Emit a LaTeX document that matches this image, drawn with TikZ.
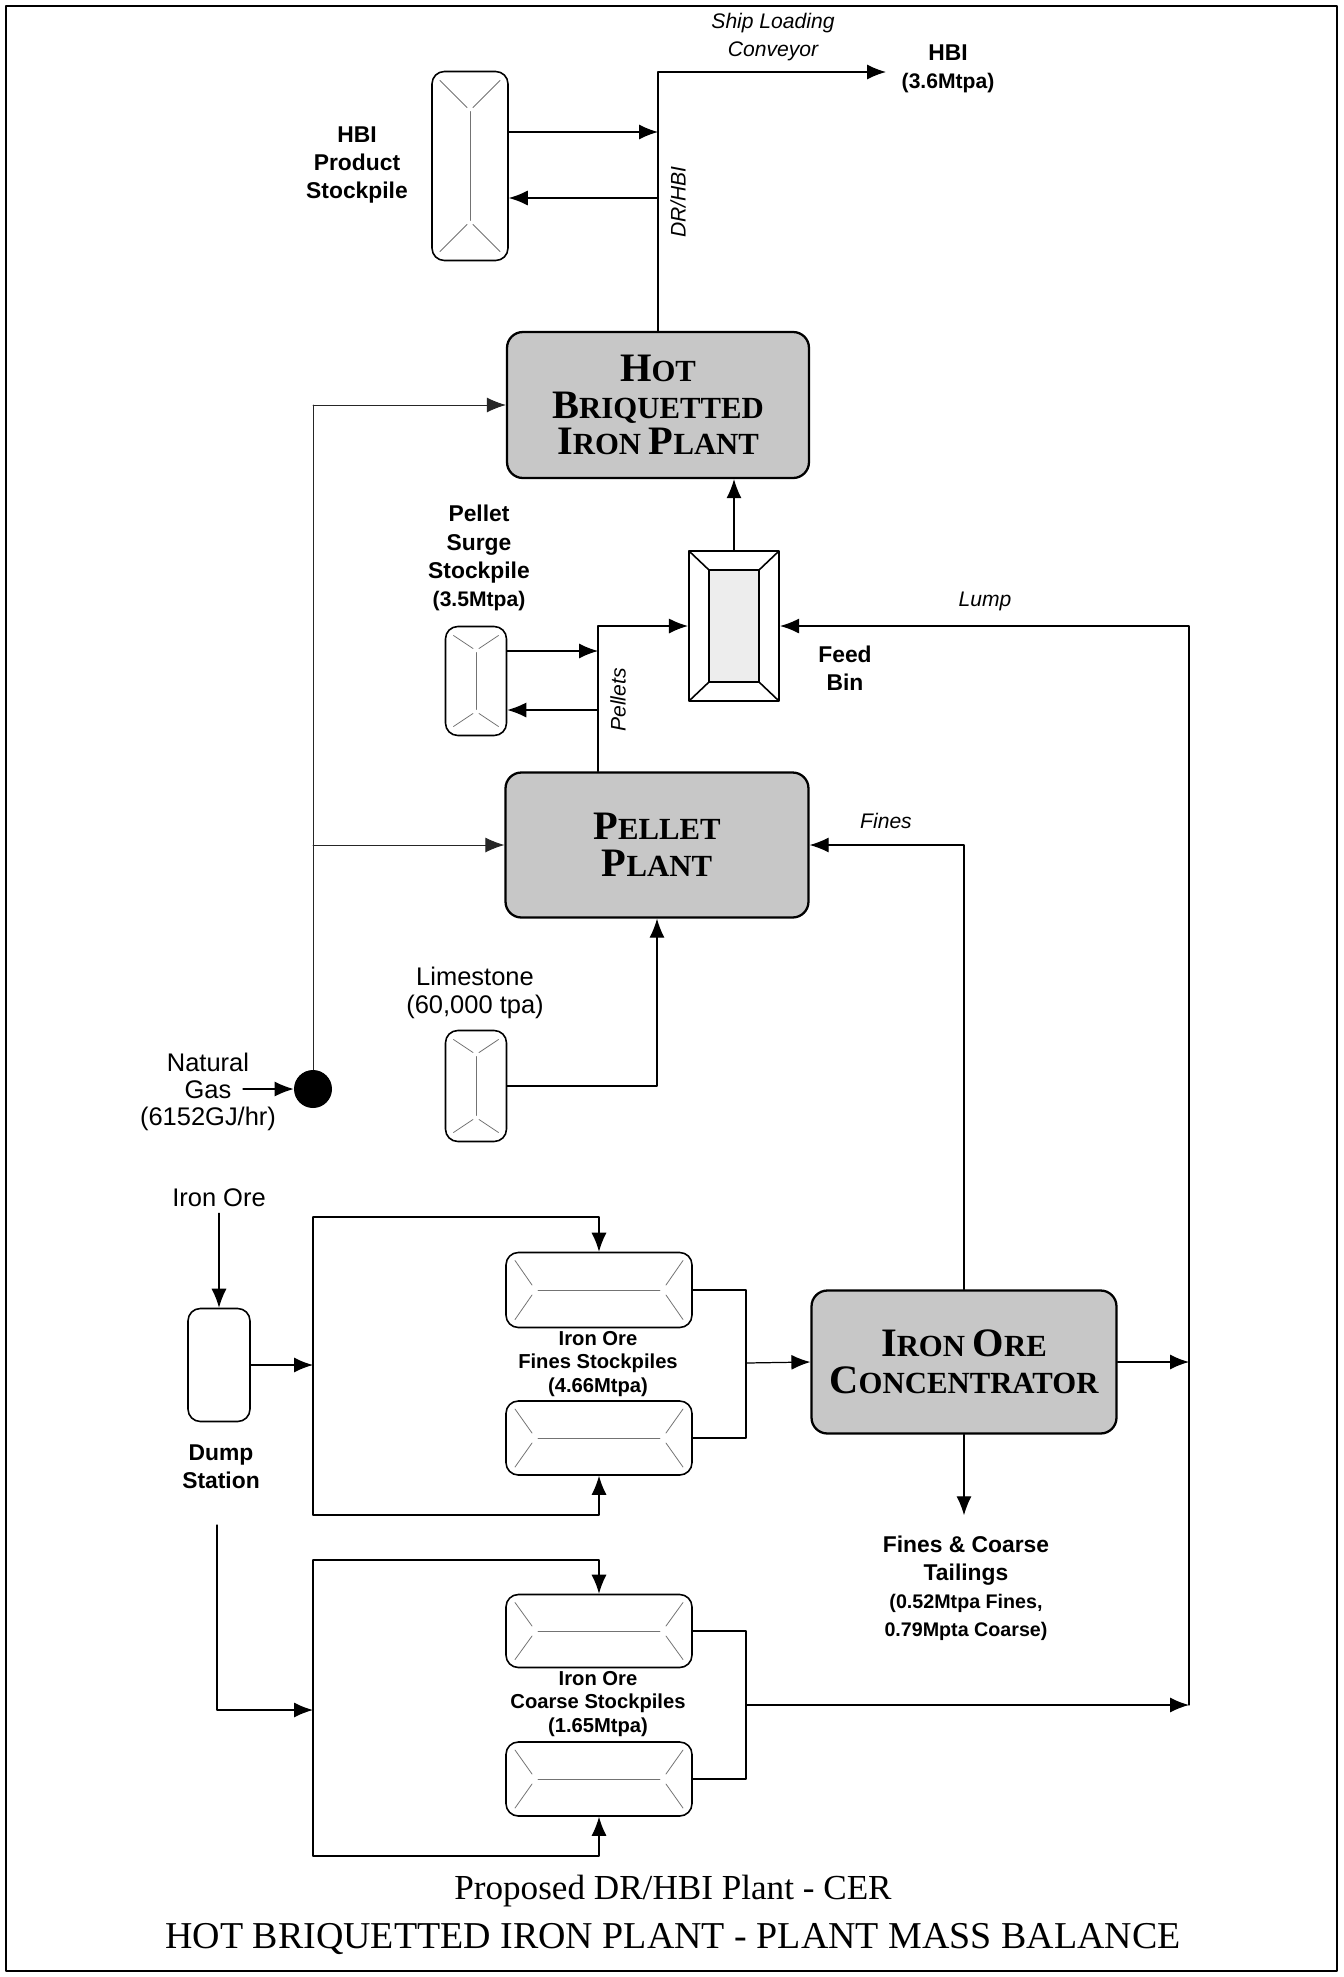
\documentclass[tikz,border=0pt]{standalone}
\usepackage{fontspec}
\setmainfont{Liberation Serif}
\setsansfont{Liberation Sans}
\usetikzlibrary{calc,arrows.meta}
\newcommand{\capsc}[2]{{\fontsize{23}{21}\selectfont #1}{\fontsize{17.5}{21}\selectfont #2}}
\newcommand{\paren}[1]{{\fontsize{12}{16}\selectfont #1}}

\begin{document}
\begin{tikzpicture}[x=0.02cm,y=-0.02cm,line cap=round,line join=round,
  line/.style={line width=0.7pt},
  flow/.style={line,-{Latex[length=3.8mm,width=3mm]}},
  gasline/.style={line width=0.5pt,black!85},
  plant/.style={draw,line width=1.3pt,rounded corners=9pt,fill=black!22,inner sep=0pt,align=center,font=\rmfamily\bfseries\fontsize{17.5}{21}\selectfont},
  pile/.style={draw,line width=0.9pt,rounded corners=7pt,inner sep=0pt},
  ridge/.style={black!55,line width=0.45pt},
  vpile/.style={pile,path picture={
    \draw[ridge] ($(path picture bounding box.north)+(0,#1)$) -- ($(path picture bounding box.south)+(0,-#1)$);
    \draw[ridge] ($(path picture bounding box.north west)+(8,9)$) -- ($(path picture bounding box.north)+(-3,#1-4)$);
    \draw[ridge] ($(path picture bounding box.north east)+(-8,9)$) -- ($(path picture bounding box.north)+(3,#1-4)$);
    \draw[ridge] ($(path picture bounding box.south west)+(8,-9)$) -- ($(path picture bounding box.south)+(-3,-#1+4)$);
    \draw[ridge] ($(path picture bounding box.south east)+(-8,-9)$) -- ($(path picture bounding box.south)+(3,-#1+4)$);}},
  hpile/.style={pile,path picture={
    \draw[ridge] ($(path picture bounding box.west)+(#1,0)$) -- ($(path picture bounding box.east)+(-#1,0)$);
    \draw[ridge] ($(path picture bounding box.north west)+(9,8)$) -- ($(path picture bounding box.west)+(#1-6,-5)$);
    \draw[ridge] ($(path picture bounding box.south west)+(9,-8)$) -- ($(path picture bounding box.west)+(#1-6,5)$);
    \draw[ridge] ($(path picture bounding box.north east)+(-9,8)$) -- ($(path picture bounding box.east)+(-#1+6,-5)$);
    \draw[ridge] ($(path picture bounding box.south east)+(-9,-8)$) -- ($(path picture bounding box.east)+(-#1+6,5)$);}},
  feedbin/.style={draw,line width=1.2pt,inner sep=0pt,path picture={
    \draw[line width=0.9pt,fill=black!7] ($(path picture bounding box.north west)+(20,19)$) rectangle ($(path picture bounding box.south east)+(-20,-19)$);
    \draw[line width=0.9pt] (path picture bounding box.north west) -- ++(20,19) (path picture bounding box.north east) -- ++(-20,19)
      (path picture bounding box.south west) -- ++(20,-19) (path picture bounding box.south east) -- ++(-20,-19);}},
  valve/.style={circle,fill=black,inner sep=0pt,minimum size=0.76cm},
  lbl/.style={align=center,font=\sffamily\bfseries\fontsize{13}{16}\selectfont},
  smalllbl/.style={align=center,font=\sffamily\bfseries\fontsize{11.5}{13.6}\selectfont},
  plain/.style={align=center,font=\sffamily\fontsize{14.5}{15.5}\selectfont},
  note/.style={align=center,font=\sffamily\itshape\fontsize{12}{15.5}\selectfont}]
  \useasboundingbox (0,0) rectangle (1344,1977);
  \draw[line width=1.6pt] (6,6) rectangle (1337,1971);

  % plants, bins and stockpiles
  \node[vpile=40,minimum width=1.52cm,minimum height=3.78cm] (hbipile) at (470,166) {};
  \node[plant,minimum width=6.04cm,minimum height=2.92cm] (hbiplant) at (658,405) {\capsc{H}{OT}\\\capsc{B}{RIQUETTED}\\\capsc{I}{RON} \capsc{P}{LANT}};
  \node[feedbin,minimum width=1.8cm,minimum height=3cm] (bin) at (734,626) {};
  \node[vpile=26,minimum width=1.22cm,minimum height=2.18cm] (pelletpile) at (476,681) {};
  \node[plant,minimum width=6.06cm,minimum height=2.9cm] (pelletplant) at (657,845) {\capsc{P}{ELLET}\\\capsc{P}{LANT}};
  \node[vpile=26,minimum width=1.22cm,minimum height=2.22cm] (limepile) at (476,1086) {};
  \node[valve] (gas) at (313,1089) {};
  \node[pile,minimum width=1.24cm,minimum height=2.26cm] (dump) at (219,1365) {};
  \node[hpile=32,minimum width=3.72cm,minimum height=1.5cm] (fines1) at (599,1290) {};
  \node[hpile=32,minimum width=3.72cm,minimum height=1.48cm] (fines2) at (599,1438) {};
  \node[plant,minimum width=6.1cm,minimum height=2.86cm] (conc) at (964,1362) {\capsc{I}{RON} \capsc{O}{RE}\\\capsc{C}{ONCENTRATOR}};
  \node[hpile=32,minimum width=3.72cm,minimum height=1.46cm] (coarse1) at (599,1631) {};
  \node[hpile=32,minimum width=3.72cm,minimum height=1.48cm] (coarse2) at (599,1779) {};

  % labels
  \node[lbl] (hbilbl) at (357,165) {HBI\\Product\\Stockpile};
  \node[note] (shiplbl) at (773,37) {Ship Loading\\Conveyor};
  \node[lbl] (hbiprod) at (948,69) {HBI\\\paren{(3.6Mtpa)}};
  \node[note,rotate=90] (drlbl) at (678,202) {DR/HBI};
  \node[lbl] (pelletlbl) at (479,558) {Pellet\\Surge\\Stockpile\\\paren{(3.5Mtpa)}};
  \node[note,rotate=90] (pelletsflow) at (618,700) {Pellets};
  \node[lbl] (binlbl) at (845,668) {Feed\\Bin};
  \node[note] (lumplbl) at (985,601) {Lump};
  \node[note] (fineslbl) at (886,821) {Fines};
  \node[plain] (limelbl) at (475,993) {Limestone\\(60,000 tpa)};
  \node[plain] (gaslbl) at (208,1092) {Natural\\Gas\\(6152GJ/hr)};
  \node[plain] (ironore) at (219,1198) {Iron Ore};
  \node[lbl] (dumplbl) at (221,1467) {Dump\\Station};
  \node[smalllbl] (finespiles) at (598,1364) {Iron Ore\\Fines Stockpiles\\(4.66Mtpa)};
  \node[smalllbl] (coarsepiles) at (598,1704) {Iron Ore\\Coarse Stockpiles\\(1.65Mtpa)};
  \node[lbl] (tail) at (966,1588) {Fines \& Coarse\\Tailings\\{\fontsize{11.2}{16}\selectfont (0.52Mtpa Fines,}\\{\fontsize{11.2}{16}\selectfont 0.79Mpta Coarse)}};
  \node[font=\rmfamily\fontsize{20}{24}\selectfont] (subtitle) at (673,1891) {Proposed DR/HBI Plant - CER};
  \node[font=\rmfamily\fontsize{21.6}{26}\selectfont] (title) at (673,1939) {HOT BRIQUETTED IRON PLANT - PLANT MASS BALANCE};

  % junctions
  \coordinate (ship) at (658,72); \coordinate (shipend) at (886,72);
  \coordinate (hbiin) at (658,132); \coordinate (hbiout) at (658,198);
  \coordinate (gastop) at (313,405); \coordinate (gasmid) at (313,845); \coordinate (gasin) at (243,1089);
  \coordinate (pin) at (598,651); \coordinate (pout) at (598,710);
  \coordinate (lumptop) at (1189,626); \coordinate (lumpbot) at (1189,1705);
  \coordinate (fo) at (746,1363); \coordinate (co) at (746,1705);
  \coordinate (ft) at (313,1217); \coordinate (fm) at (313,1365); \coordinate (fb) at (313,1515);
  \coordinate (ct) at (313,1560); \coordinate (cm) at (313,1710); \coordinate (cb) at (313,1856);
  \coordinate (cs) at (217,1525);

  % flows
  \draw[flow] (hbiplant.north) -- (ship) -- (shipend);
  \draw[flow] (hbipile.east |- hbiin) -- (hbiin);
  \draw[flow] (hbiout) -- (hbipile.east |- hbiout);
  \draw[gasline] (gas.north) -- (gastop);
  \draw[flow,gasline] (gastop) -- (hbiplant.west);
  \draw[flow,gasline] (gasmid) -- (pelletplant.west);
  \draw[flow] (gasin) -- (gas.west);
  \draw[flow] (bin.north) -- (bin.north |- hbiplant.south);
  \draw[flow] (pin |- pelletplant.north) -- (pin |- bin.west) -- (bin.west);
  \draw[flow] (pelletpile.east |- pin) -- (pin);
  \draw[flow] (pout) -- (pelletpile.east |- pout);
  \draw[flow] (limepile.east) -| (pelletplant.south);
  \draw[flow] (lumpbot) -- (lumptop) -- (bin.east);
  \draw[flow] (conc.north) |- (pelletplant.east);
  \draw[flow] (conc.east) -- (conc.east -| lumptop);
  \draw[flow,shorten >=8pt] (conc.south) -- (conc.south |- tail.north);
  \draw[flow] (ironore.south) -- (dump.north);
  \draw[flow] (dump.east) -- (fm);
  \draw[line] (ft) -- (fb); \draw[flow] (ft) -| (fines1.north); \draw[flow] (fb) -| (fines2.south);
  \draw[line] (fines1.east) -| (fo) |- (fines2.east); \draw[flow] (fo) -- (conc.west);
  \draw[flow] (cs) |- (cm);
  \draw[line] (ct) -- (cb); \draw[flow] (ct) -| (coarse1.north); \draw[flow] (cb) -| (coarse2.south);
  \draw[line] (coarse1.east) -| (co) |- (coarse2.east); \draw[flow] (co) -- (lumpbot);
\end{tikzpicture}
\end{document}
